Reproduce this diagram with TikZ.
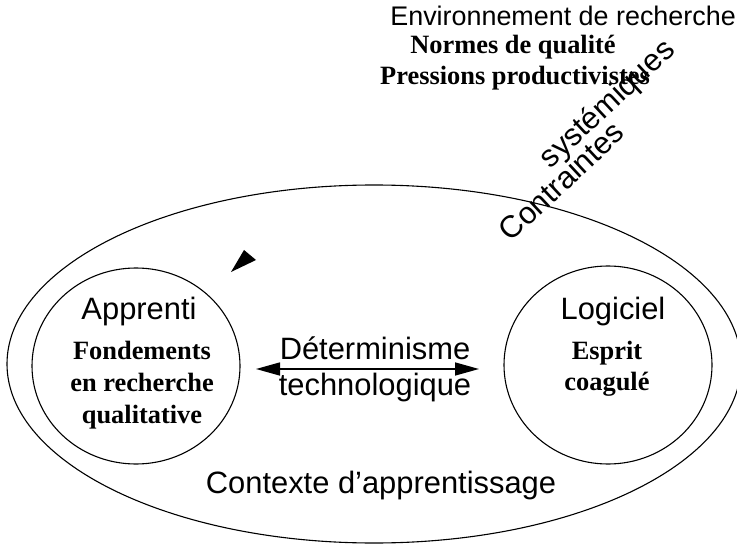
\documentclass[tikz,border=0pt]{standalone}
\usepackage{fontspec}
\setmainfont{Liberation Serif}
\setsansfont{Liberation Sans}
\usetikzlibrary{shapes.geometric, arrows.meta}
\tikzset{
  sanslbl/.style={font=\sffamily\fontsize{31}{31}\selectfont, inner sep=0pt},
  toplbl/.style={font=\sffamily\fontsize{27}{27}\selectfont, inner sep=0pt},
  seriflbl/.style={font=\bfseries\fontsize{26.5}{26.5}\selectfont, inner sep=0pt},
  oval/.style={draw, ellipse, line width=1.1bp, inner sep=0pt},
  dblarrow/.style={line width=1.5bp, {Triangle[length=24bp,width=13bp]}-{Triangle[length=24bp,width=13bp]}},
}
\begin{document}
\begin{tikzpicture}[x=1bp,y=-1bp]
\useasboundingbox (0,0) rectangle (737,545);
% ellipses
\node[oval, minimum width=734bp, minimum height=358bp] (ctx) at (374,364) {};
\node[oval, minimum width=208bp, minimum height=196bp] (app) at (136,366) {};
\node[oval, minimum width=208bp, minimum height=198bp] (log) at (608,365) {};
% top texts
\node[toplbl, anchor=base east] (env) at (736,26) {Environnement de recherche};
\node[seriflbl, anchor=base] (normes) at (513,54) {Normes de qualité};
\node[seriflbl, anchor=base] (press) at (515,85) {Pressions productivistes};
% rotated texts
\node[sanslbl, rotate=43] (contr) at (561,181) {Contraintes};
\node[sanslbl, rotate=43] (syst) at (608,105) {systémiques};
% arrowhead
\fill (244,250) -- (256,260) -- (231,272) -- cycle;
% apprenti
\node[sanslbl, anchor=base] (appt) at (139,319) {Apprenti};
\node[seriflbl, anchor=base] (f1) at (142,359.5) {Fondements};
\node[seriflbl, anchor=base] (f2) at (142,391) {en recherche};
\node[seriflbl, anchor=base] (f3) at (142,423) {qualitative};
% logiciel
\node[sanslbl, anchor=base] (logt) at (613,319) {Logiciel};
\node[seriflbl, anchor=base] (e1) at (607,359.5) {Esprit};
\node[seriflbl, anchor=base] (e2) at (607,390) {coagulé};
% middle
\node[sanslbl, anchor=base] (det) at (375,359.5) {Déterminisme};
\node[sanslbl, anchor=base] (tech) at (375,395.5) {technologique};
\coordinate (aL) at (256,369);
\coordinate (aR) at (479,369);
\draw[dblarrow] (aL) -- (aR);
% context
\node[sanslbl, anchor=base] (ctxt) at (381,493) {Contexte d’apprentissage};
\end{tikzpicture}
\end{document}
